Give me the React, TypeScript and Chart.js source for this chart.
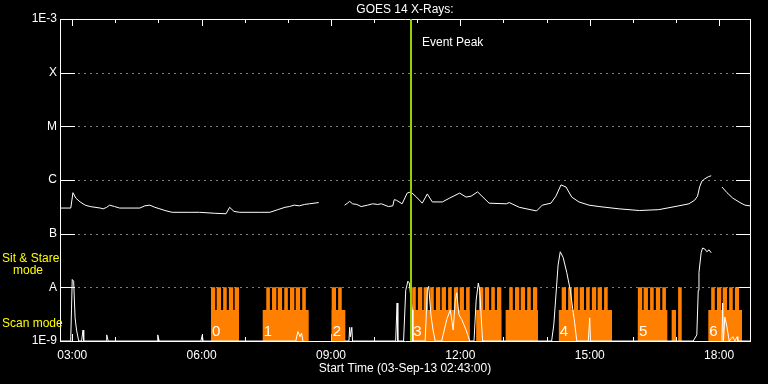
import React, { useEffect, useRef } from "react";
import { Chart, registerables } from "chart.js";

Chart.register(...registerables);

// ---------- data ----------
const xStart = "02:43";
const xEnd = "18:43";
const xTickTimes = ["03:00", "06:00", "09:00", "12:00", "15:00", "18:00"];
const xTickLabels = ["03:00", "06:00", "09:00", "12:00", "15:00", "18:00"];
const yTickValues = [1e-9, 1e-8, 1e-7, 1e-6, 1e-5, 1e-4, 1e-3];
const yTickLabels = ["1E-9", "A", "B", "C", "M", "X", "1E-3"];

const chartTitle = "GOES 14 X-Rays:";
const xAxisTitle = "Start Time (03-Sep-13 02:43:00)";
const eventTime = "10:51";
const eventLabel = "Event Peak";

// GOES long channel (1-8 A)
const longTimes = [
  "02:43", "02:58", "03:01", "03:05", "03:11", "03:18", "03:25", "03:39", "03:43", "03:48",
  "03:52", "03:59", "04:06", "04:34", "04:41", "04:48", "04:55", "05:02", "05:09", "05:19",
  "05:44", "05:57", "06:18", "06:34", "06:39", "06:45", "06:53", "07:21", "07:35", "07:46",
  "07:56", "08:02", "08:09", "08:16", "08:23", "08:30", "08:43", "09:00", "09:19", "09:23",
  "09:26", "09:30", "09:36", "09:42", "09:51", "09:58", "10:05", "10:10", "10:20", "10:26",
  "10:28", "10:31", "10:39", "10:46", "10:51", "10:59", "11:07", "11:14", "11:21", "11:35",
  "11:45", "11:59", "12:08", "12:15", "12:24", "12:40", "13:04", "13:08", "13:22", "13:46",
  "13:54", "14:06", "14:13", "14:20", "14:27", "14:35", "14:45", "14:59", "15:13", "15:41",
  "16:09", "16:36", "17:04", "17:18", "17:26", "17:30", "17:33", "17:36", "17:40", "17:45",
  "17:49", "17:56", "18:04", "18:11", "18:19", "18:29", "18:36", "18:43",
];
const longFlux = [
  3.0e-7, 3.0e-7, 5.8e-7, 4.6e-7, 3.9e-7, 3.4e-7, 3.2e-7, 3.0e-7, 2.9e-7, 3.1e-7,
  3.4e-7, 3.2e-7, 3.0e-7, 3.0e-7, 3.3e-7, 3.4e-7, 3.1e-7, 2.9e-7, 2.7e-7, 2.5e-7,
  2.5e-7, 2.5e-7, 2.4e-7, 2.35e-7, 3.1e-7, 2.6e-7, 2.5e-7, 2.5e-7, 2.5e-7, 2.8e-7,
  3.1e-7, 3.2e-7, 3.4e-7, 3.3e-7, 3.5e-7, 3.6e-7, 3.8e-7, null, 3.4e-7, 3.7e-7,
  4.0e-7, 3.6e-7, 3.5e-7, 3.2e-7, 3.4e-7, 3.6e-7, 3.5e-7, 3.6e-7, 3.2e-7, 3.3e-7,
  4.3e-7, 4.2e-7, 3.6e-7, 5.7e-7, 6.0e-7, 4.8e-7, 3.7e-7, 5.5e-7, 3.9e-7, 3.9e-7,
  4.6e-7, 5.7e-7, 4.8e-7, 5.0e-7, 6.0e-7, 3.7e-7, 3.6e-7, 3.8e-7, 3.1e-7, 2.65e-7,
  3.4e-7, 3.7e-7, 5.0e-7, 8.1e-7, 7.4e-7, 4.8e-7, 3.9e-7, 3.4e-7, 3.2e-7, 2.9e-7,
  2.7e-7, 2.8e-7, 3.3e-7, 3.6e-7, 4.2e-7, 5.0e-7, 7.5e-7, 9.5e-7, 1.05e-6, 1.15e-6,
  1.2e-6, null, 7.4e-7, 5.8e-7, 4.6e-7, 3.8e-7, 3.4e-7, 3.3e-7,
];

// GOES short channel (0.5-4 A)
const shortTimes = [
  "02:43", "02:57", "02:58", "02:59", "03:00", "03:02", "03:03", "03:04", "03:06", "03:09",
  "03:13", "03:15", "03:16", "03:47", "03:48", "03:50", "04:58", "04:59", "05:01", "05:59",
  "06:01", "06:02", "08:11", "08:14", "08:17", "08:19", "08:21", "09:00", "09:19", "09:25",
  "09:26", "09:27", "09:29", "09:30", "10:30", "10:32", "10:33", "10:41", "10:44", "10:47",
  "10:49", "10:53", "10:54", "11:11", "11:14", "11:16", "11:19", "11:22", "11:25", "11:34",
  "11:41", "11:46", "11:50", "11:53", "11:55", "11:58", "12:02", "12:08", "12:13", "12:19",
  "12:22", "12:25", "12:27", "12:30", "12:31", "14:02", "14:07", "14:10", "14:13", "14:16",
  "14:19", "14:23", "14:28", "14:33", "14:37", "14:39", "14:42", "14:58", "15:00", "15:01",
  "17:24", "17:29", "17:31", "17:32", "17:35", "17:37", "17:40", "17:43", "17:46", "17:49",
  "17:56", "18:04", "18:05", "18:06", "18:08", "18:11", "18:14", "18:19", "18:22", "18:25",
  "18:26", "18:43",
];
const shortFlux = [
  1e-9, 1e-9, 1.2e-9, 3.8e-9, 1.4e-8, 1.3e-8, 5.8e-9, 2.7e-9, 1.6e-9, 1e-9,
  1e-9, 1.6e-9, 1e-9, 1e-9, 1.3e-9, 1e-9, 1e-9, 1.3e-9, 1e-9, 1e-9,
  1.3e-9, 1e-9, 1e-9, 1.5e-9, 1.2e-9, 1.4e-9, 1e-9, null, 1e-9, 1e-9,
  1.8e-9, 1.2e-9, 1.8e-9, 1e-9, 1e-9, 5.1e-9, 1e-9, 1e-9, 8.8e-9, 1.3e-8,
  1.2e-8, 3.8e-9, 1e-9, 1e-9, 8.8e-9, 1.04e-8, 3.1e-9, 1.6e-9, 1e-9, 1e-9,
  2.5e-9, 3.8e-9, 1.6e-9, 5.8e-9, 7.9e-9, 3.1e-9, 2.5e-9, 1.6e-9, 1e-9, 1e-9,
  5.8e-9, 1.2e-8, 8.8e-9, 1.6e-9, 1e-9, 1e-9, 1e-9, 2.0e-9, 7.2e-9, 2.6e-8,
  4.6e-8, 3.6e-8, 1.9e-8, 8.8e-9, 3.4e-9, 2.2e-9, 1e-9, 1e-9, 2.7e-9, 1e-9,
  1e-9, 1.3e-9, 8.8e-9, 1.9e-8, 4.4e-8, 5.4e-8, 5.2e-8, 4.6e-8, 5.0e-8, 4.4e-8,
  null, 1e-9, 5.1e-9, 1e-9, 2.8e-9, 1.8e-9, 1e-9, 1.2e-9, 1e-9, 1.2e-9,
  1e-9, 1e-9,
];

// Observing modes
const scanLevel = 3.8e-9;
const stareLevel = 1e-8;
const floorLevel = 1e-9;
const scanStarts = ["06:13", "07:25", "09:01", "10:53", "12:22", "13:03", "14:17", "16:07", "16:54", "17:45"];
const scanEnds = ["06:52", "08:29", "09:20", "12:13", "12:57", "13:48", "15:31", "16:48", "17:00", "18:32"];
const stareStarts = [
  "06:13", "06:21", "06:30", "06:38", "06:46",
  "07:30", "07:38", "07:46", "07:55", "08:03", "08:11", "08:20",
  "09:01", "09:10",
  "10:53", "11:01", "11:09", "11:18", "11:26", "11:34", "11:43", "11:51", "11:59", "12:08",
  "12:26", "12:34", "12:43", "12:51",
  "13:08", "13:16", "13:24", "13:33", "13:41",
  "14:21", "14:30", "14:38", "14:46", "14:55", "15:03", "15:11", "15:20",
  "16:07", "16:15", "16:24", "16:32", "16:41",
  "17:03",
  "17:49", "17:57", "18:05", "18:14", "18:22",
];
const stareEnds = [
  "06:19", "06:27", "06:35", "06:44", "06:52",
  "07:35", "07:44", "07:52", "08:00", "08:09", "08:17", "08:25",
  "09:07", "09:15",
  "10:58", "11:07", "11:15", "11:23", "11:32", "11:40", "11:48", "11:57", "12:05", "12:13",
  "12:32", "12:40", "12:48", "12:57",
  "13:13", "13:22", "13:30", "13:38", "13:47",
  "14:27", "14:35", "14:44", "14:52", "15:00", "15:09", "15:17", "15:25",
  "16:13", "16:21", "16:29", "16:38", "16:46",
  "17:08",
  "17:54", "18:03", "18:11", "18:19", "18:28",
];
const blockLabels = ["0", "1", "2", "3", "4", "5", "6"];
const blockLabelTimes = ["06:13", "07:25", "09:01", "10:53", "14:17", "16:07", "17:45"];

// ---------- helpers ----------
const toMin = (t: string) => {
  const [h, m] = t.split(":").map(Number);
  return h * 60 + m;
};

const seriesPoints = (times: string[], vals: (number | null)[]) =>
  times.map((t, i) => ({ x: toMin(t), y: vals[i] }));

const spanPoints = (starts: string[], ends: string[], level: number) => {
  const pts: { x: number; y: number }[] = [];
  starts.forEach((s, i) => {
    const a = toMin(s);
    const b = toMin(ends[i]);
    pts.push({ x: a, y: floorLevel }, { x: a, y: level }, { x: b, y: level }, { x: b, y: floorLevel });
  });
  return pts;
};

const ORANGE = "#ff8000";
const FONT = "'Liberation Sans', Arial, sans-serif";

const decorPlugin = {
  id: "goesDecor",
  beforeDatasetsDraw(chart: any) {
    const { ctx, chartArea: a, scales } = chart;
    const ys = scales.y;
    const xs = scales.x;
    ctx.save();
    ctx.strokeStyle = "#ffffff";
    ctx.lineWidth = 1;
    yTickValues.forEach((v, i) => {
      if (i === 0 || i === yTickValues.length - 1) return;
      const py = Math.round(ys.getPixelForValue(v)) + 0.5;
      ctx.setLineDash([1, 5]);
      ctx.beginPath();
      ctx.moveTo(a.left + 18.5, py);
      ctx.lineTo(a.right - 14, py);
      ctx.stroke();
      ctx.setLineDash([]);
      ctx.beginPath();
      ctx.moveTo(a.left, py);
      ctx.lineTo(a.left + 15, py);
      ctx.moveTo(a.right - 14, py);
      ctx.lineTo(a.right, py);
      ctx.stroke();
    });
    const h0 = Math.ceil(toMin(xStart) / 60);
    const h1 = Math.floor(toMin(xEnd) / 60);
    for (let h = h0; h <= h1; h++) {
      const px = Math.round(xs.getPixelForValue(h * 60)) + 0.5;
      const len = h % 3 === 0 ? 7 : 4;
      ctx.beginPath();
      ctx.moveTo(px, a.top);
      ctx.lineTo(px, a.top + len);
      ctx.moveTo(px, a.bottom);
      ctx.lineTo(px, a.bottom - len);
      ctx.stroke();
    }
    ctx.restore();
  },
  afterDatasetsDraw(chart: any) {
    const { ctx, chartArea: a, scales } = chart;
    const xs = scales.x;
    ctx.save();
    // event line
    const ex = xs.getPixelForValue(toMin(eventTime));
    ctx.strokeStyle = "#9acd00";
    ctx.lineWidth = 2;
    ctx.beginPath();
    ctx.moveTo(Math.round(ex), a.top);
    ctx.lineTo(Math.round(ex), a.bottom);
    ctx.stroke();
    ctx.fillStyle = "#ffffff";
    ctx.font = "12px " + FONT;
    ctx.textBaseline = "middle";
    ctx.textAlign = "left";
    ctx.fillText(eventLabel, Math.round(ex) + 11, a.top + 24);
    // block numbers
    ctx.font = "15px " + FONT;
    blockLabels.forEach((lab, i) => {
      const bx = xs.getPixelForValue(toMin(blockLabelTimes[i]));
      ctx.fillText(lab, bx + 1, a.bottom - 9);
    });
    // mode labels
    ctx.fillStyle = "#ffff00";
    ctx.font = "12px " + FONT;
    ctx.fillText("Sit & Stare", 2, 259);
    ctx.fillText("mode", 13, 271);
    ctx.fillText("Scan mode", 2, 324);
    ctx.restore();
  },
};

export default function App() {
  const canvasRef = useRef<HTMLCanvasElement | null>(null);

  useEffect(() => {
    document.body.style.margin = "0";
    document.body.style.background = "#000";
    const canvas = canvasRef.current;
    if (!canvas) return;
    Chart.defaults.font.family = FONT;
    Chart.defaults.color = "#ffffff";

    const xMin = toMin(xStart);
    const xMax = toMin(xEnd);

    const chart = new Chart(canvas, {
      type: "line",
      data: {
        datasets: [
          {
            data: seriesPoints(longTimes, longFlux),
            borderColor: "#ffffff",
            borderWidth: 1,
            pointRadius: 0,
            tension: 0,
            fill: false,
            spanGaps: false,
          },
          {
            data: seriesPoints(shortTimes, shortFlux),
            borderColor: "#ffffff",
            borderWidth: 1,
            pointRadius: 0,
            tension: 0,
            fill: false,
            spanGaps: false,
          },
          {
            data: spanPoints(stareStarts, stareEnds, stareLevel),
            borderColor: "rgba(0,0,0,0)",
            backgroundColor: ORANGE,
            borderWidth: 0,
            pointRadius: 0,
            tension: 0,
            fill: "start",
          },
          {
            data: spanPoints(scanStarts, scanEnds, scanLevel),
            borderColor: "rgba(0,0,0,0)",
            backgroundColor: ORANGE,
            borderWidth: 0,
            pointRadius: 0,
            tension: 0,
            fill: "start",
          },
        ] as any,
      },
      options: {
        animation: false,
        responsive: true,
        maintainAspectRatio: false,
        layout: { padding: 0 },
        events: [],
        plugins: {
          legend: { display: false },
          tooltip: { enabled: false },
          title: {
            display: true,
            text: chartTitle,
            color: "#ffffff",
            fullSize: false,
            font: { size: 12, weight: "normal", family: FONT },
            padding: { top: 2, bottom: 2.6 },
          },
        },
        scales: {
          x: {
            type: "linear",
            position: "bottom",
            min: xMin,
            max: xMax,
            afterBuildTicks: (s: any) => {
              s.ticks = xTickTimes.map((t) => ({ value: toMin(t) }));
            },
            afterFit: (s: any) => {
              s.height = 43;
            },
            ticks: {
              autoSkip: false,
              maxRotation: 0,
              padding: 7,
              color: "#ffffff",
              font: { size: 12 },
              callback: (_v: any, i: number) => xTickLabels[i],
            },
            grid: { display: false, drawTicks: false },
            border: { display: true, color: "#ffffff", width: 1 },
            title: {
              display: true,
              text: xAxisTitle,
              color: "#ffffff",
              font: { size: 12 },
              padding: { top: 0, bottom: 8 },
            },
          },
          x2: {
            type: "linear",
            position: "top",
            min: xMin,
            max: xMax,
            afterFit: (s: any) => {
              s.height = 0;
            },
            ticks: { display: false },
            grid: { display: false, drawTicks: false },
            border: { display: true, color: "#ffffff", width: 1 },
          },
          y: {
            type: "logarithmic",
            position: "left",
            min: yTickValues[0],
            max: yTickValues[yTickValues.length - 1],
            afterBuildTicks: (s: any) => {
              s.ticks = yTickValues.map((v) => ({ value: v }));
            },
            afterFit: (s: any) => {
              s.width = 60;
            },
            ticks: {
              autoSkip: false,
              padding: 3,
              color: "#ffffff",
              font: { size: 12 },
              callback: (_v: any, i: number) => yTickLabels[i],
            },
            grid: { display: false, drawTicks: false },
            border: { display: true, color: "#ffffff", width: 1 },
          },
          y2: {
            type: "logarithmic",
            position: "right",
            min: yTickValues[0],
            max: yTickValues[yTickValues.length - 1],
            afterFit: (s: any) => {
              s.width = 18;
            },
            ticks: { display: false },
            grid: { display: false, drawTicks: false },
            border: { display: true, color: "#ffffff", width: 1 },
          },
        },
      } as any,
      plugins: [decorPlugin],
    });

    return () => chart.destroy();
  }, []);

  return (
    <div style={{ width: 768, height: 384, background: "#000", position: "relative" }}>
      <canvas ref={canvasRef} />
    </div>
  );
}
